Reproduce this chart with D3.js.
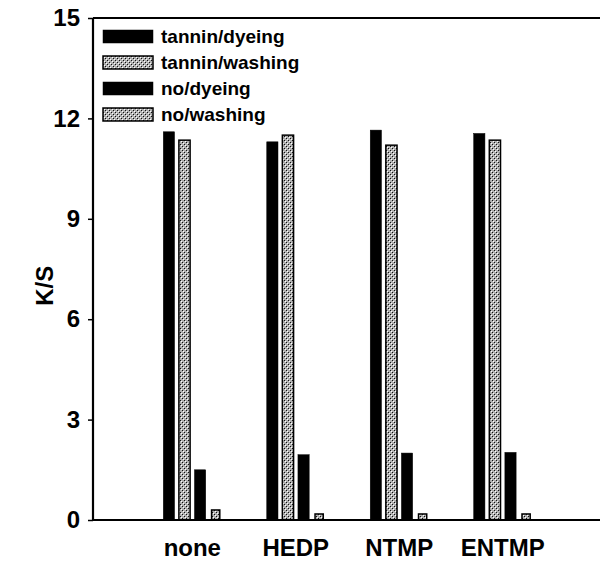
<!DOCTYPE html>
<html>
<head>
<meta charset="utf-8">
<script src="https://cdn.jsdelivr.net/npm/d3@7"></script>
<style>
  body { margin: 0; background: #fff; }
  text { font-family: "Liberation Sans", Arial, sans-serif; font-weight: bold; }
</style>
</head>
<body>
<div id="chart-area"></div>
<script>
var categories = ["none", "HEDP", "NTMP", "ENTMP"];
var series = ["tannin/dyeing", "tannin/washing", "no/dyeing", "no/washing"];
var tanninDyeing = [11.6, 11.3, 11.65, 11.55];
var tanninWashing = [11.35, 11.5, 11.2, 11.35];
var noDyeing = [1.5, 1.95, 2.0, 2.02];
var noWashing = [0.3, 0.18, 0.18, 0.18];
var yTicks = [0, 3, 6, 9, 12, 15];

var values = [tanninDyeing, tanninWashing, noDyeing, noWashing];

var width = 600, height = 562;
var margin = { left: 93, right: 0, top: 18, bottom: 42 };

var svg = d3.select("#chart-area").append("svg")
	.attr("width", width)
	.attr("height", height);

var defs = svg.append("defs");
var pat = defs.append("pattern")
	.attr("id", "hatch")
	.attr("patternUnits", "userSpaceOnUse")
	.attr("width", 4)
	.attr("height", 4);
pat.append("rect").attr("width", 4).attr("height", 4).attr("fill", "#b0b0b0");
pat.append("rect").attr("x", 0).attr("y", 0).attr("width", 1).attr("height", 1).attr("fill", "#111");
pat.append("rect").attr("x", 2).attr("y", 2).attr("width", 1).attr("height", 1).attr("fill", "#111");
pat.append("rect").attr("x", 1).attr("y", 1).attr("width", 1).attr("height", 1).attr("fill", "#fff");
pat.append("rect").attr("x", 3).attr("y", 3).attr("width", 1).attr("height", 1).attr("fill", "#fff");

var fills = ["#000", "url(#hatch)", "#000", "url(#hatch)"];

var y = d3.scaleLinear()
	.domain([0, 15])
	.range([height - margin.bottom, margin.top]);

var x = d3.scaleBand()
	.domain(categories)
	.range([margin.left + 1, width + 1])
	.paddingOuter(0.45)
	.paddingInner(0);

var x1 = d3.scaleBand()
	.domain(series)
	.range([-29, 29])
	.paddingInner(0.28);

// bars
categories.forEach(function(cat, i) {
	var cx = x(cat) + x.bandwidth() / 2;
	series.forEach(function(s, j) {
		var v = values[j][i];
		var bw = x1.bandwidth();
		var bx = cx + x1(s);
		if (j === 3) { bx += 1.5; bw -= 3; }
		svg.append("rect")
			.attr("x", bx)
			.attr("y", y(v))
			.attr("width", bw)
			.attr("height", y(0) - y(v))
			.attr("fill", fills[j])
			.attr("stroke", "#000")
			.attr("stroke-width", j % 2 === 1 ? 1.5 : 0.5);
	});
});

// y axis
var yAxis = d3.axisLeft(y)
	.tickValues(yTicks)
	.tickSize(5)
	.tickPadding(8);

var gy = svg.append("g")
	.attr("transform", "translate(" + margin.left + ",0)")
	.call(yAxis);
gy.select(".domain").attr("stroke-width", 2.2).attr("d", "M0," + y(15) + "V" + y(0));
gy.selectAll(".tick line").attr("stroke-width", 1.5);
gy.selectAll("text")
	.attr("font-size", "24px")
	.attr("fill", "#000")
	.style("font-family", "'Liberation Sans', Arial, sans-serif")
	.style("font-weight", "bold");

// x axis
var xAxis = d3.axisBottom(x).tickSize(0).tickPadding(19);
var gx = svg.append("g")
	.attr("transform", "translate(0," + y(0) + ")")
	.call(xAxis);
gx.select(".domain").attr("stroke-width", 2.2).attr("d", "M" + margin.left + ",0H" + width);
gx.selectAll("text")
	.attr("font-size", "24px")
	.attr("fill", "#000")
	.style("font-family", "'Liberation Sans', Arial, sans-serif")
	.style("font-weight", "bold");

// top frame line
svg.append("line")
	.attr("x1", margin.left)
	.attr("x2", width)
	.attr("y1", y(15))
	.attr("y2", y(15))
	.attr("stroke", "#000")
	.attr("stroke-width", 2.2);

// y label
svg.append("text")
	.attr("transform", "translate(53," + (y(7)) + ") rotate(-90)")
	.attr("text-anchor", "middle")
	.attr("font-size", "24px")
	.text("K/S");

// legend
var legend = svg.append("g").attr("transform", "translate(103,30)");
series.forEach(function(s, j) {
	var row = legend.append("g").attr("transform", "translate(0," + (j * 26) + ")");
	row.append("rect")
		.attr("width", 50)
		.attr("height", 13)
		.attr("fill", fills[j])
		.attr("stroke", "#000")
		.attr("stroke-width", j % 2 === 1 ? 1.5 : 0.5);
	row.append("text")
		.attr("x", 58)
		.attr("y", 13)
		.attr("font-size", "19px")
		.text(s);
});
</script>
</body>
</html>
